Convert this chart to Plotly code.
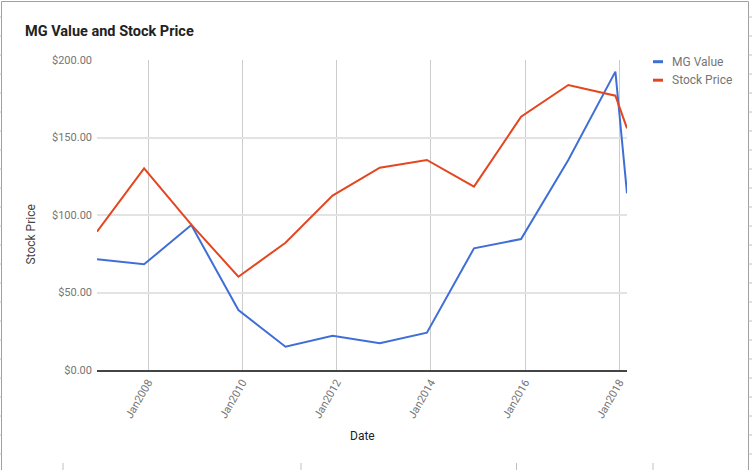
import plotly.graph_objects as go

# ---- data ----
dates = ["2006-12-01", "2007-12-01", "2008-12-01", "2009-12-01", "2010-12-01",
         "2011-12-01", "2012-12-01", "2013-12-01", "2014-12-01", "2015-12-01",
         "2016-12-01", "2017-12-01", "2018-03-01"]
mg_value = [71.4, 68.2, 93.5, 38.7, 15.0, 22.1, 17.2, 24.1, 78.5, 84.5, 135.5, 192.5, 114.0]
stock_price = [89.2, 130.1, 93.8, 60.2, 82.1, 112.5, 130.5, 135.5, 118.3, 163.4, 183.9, 177.0, 155.9]

x_tick_vals = ["2008-01-01", "2010-01-01", "2012-01-01", "2014-01-01", "2016-01-01", "2018-01-01"]
x_tick_labels = ["Jan2008", "Jan2010", "Jan2012", "Jan2014", "Jan2016", "Jan2018"]
y_tick_vals = [0, 50, 100, 150, 200]

series_names = ["MG Value", "Stock Price"]
colors = ["#3f6fd6", "#e4461f"]

W, H = 752, 470
L, R, T, B = 97, 627, 60, 370


def px(x):
    return (x - L) / (R - L)


def py(y):
    return (B - y) / (B - T)


fig = go.Figure()
for name, vals, col in zip(series_names, [mg_value, stock_price], colors):
    fig.add_trace(go.Scatter(x=dates, y=vals, mode="lines", name=name,
                             line=dict(color=col, width=2), showlegend=False,
                             cliponaxis=True))

shapes = []
annotations = []

# legend (manual, to match the short swatches)
for i, (name, col) in enumerate(zip(series_names, colors)):
    cy = 61.7 + i * 18.5
    shapes.append(dict(type="rect", xref="paper", yref="paper",
                       x0=px(653), x1=px(663), y0=py(cy - 1.5), y1=py(cy + 1.5),
                       fillcolor=col, line=dict(width=0)))
    annotations.append(dict(text=name, xref="paper", yref="paper",
                            x=px(670), y=py(cy), xanchor="left", yanchor="middle",
                            showarrow=False,
                            font=dict(family="Roboto", size=12, color="#757575")))

# axis titles
annotations.append(dict(text="Stock Price", xref="paper", yref="paper",
                        x=px(30.5), y=py(235), textangle=-90, showarrow=False,
                        xanchor="center", yanchor="middle",
                        font=dict(family="Roboto", size=12, color="#444444")))
annotations.append(dict(text="Date", xref="paper", yref="paper",
                        x=0.5, y=py(436), showarrow=False,
                        xanchor="center", yanchor="middle",
                        font=dict(family="Roboto", size=12, color="#222222")))

# outer frame of the screenshot
shapes.append(dict(type="rect", xref="paper", yref="paper",
                   x0=px(1.5), x1=px(748.5), y0=py(1.5), y1=py(480),
                   line=dict(color="#a0a0a0", width=1), fillcolor="rgba(0,0,0,0)"))
for yy in range(17, 470, 19):
    shapes.append(dict(type="line", xref="paper", yref="paper",
                       x0=px(0), x1=px(1.5), y0=py(yy), y1=py(yy),
                       line=dict(color="#c0c0c0", width=1)))
    shapes.append(dict(type="line", xref="paper", yref="paper",
                       x0=px(748.5), x1=px(752), y0=py(yy), y1=py(yy),
                       line=dict(color="#c0c0c0", width=1)))
for xx in [63, 301, 516.5, 653]:
    shapes.append(dict(type="line", xref="paper", yref="paper",
                       x0=px(xx), x1=px(xx), y0=py(463), y1=py(470),
                       line=dict(color="#c0c0c0", width=1)))

fig.update_layout(
    width=W, height=H,
    margin=dict(l=L, r=W - R, t=T, b=H - B, pad=0),
    paper_bgcolor="white", plot_bgcolor="white",
    title=dict(text="<b>MG Value and Stock Price</b>", xref="container", yref="container",
               x=25 / W, y=1 - 31 / H, xanchor="left", yanchor="middle",
               font=dict(family="Roboto", size=14.5, color="#222222")),
    xaxis=dict(type="date", range=[dates[0], dates[-1]],
               tickmode="array", tickvals=x_tick_vals, ticktext=x_tick_labels,
               tickangle=-60, ticks="", showgrid=True, gridcolor="#cccccc", gridwidth=1,
               showline=True, linecolor="#444444", linewidth=1.5,
               tickfont=dict(family="Roboto", size=11, color="#757575"),
               zeroline=False, fixedrange=True),
    yaxis=dict(range=[0, 200], tickmode="array", tickvals=y_tick_vals,
               tickformat="$.2f", ticks="",
               showgrid=True, gridcolor="#e3e3e3", gridwidth=1.5,
               zeroline=False, showline=False, ticklabelstandoff=4,
               tickfont=dict(family="Roboto", size=11, color="#757575"),
               fixedrange=True),
    shapes=shapes,
    annotations=annotations,
    font=dict(family="Roboto"),
    hovermode=False,
)

fig.write_html("out.html", config={"displayModeBar": False},
               post_script="document.body.style.margin='0';")
